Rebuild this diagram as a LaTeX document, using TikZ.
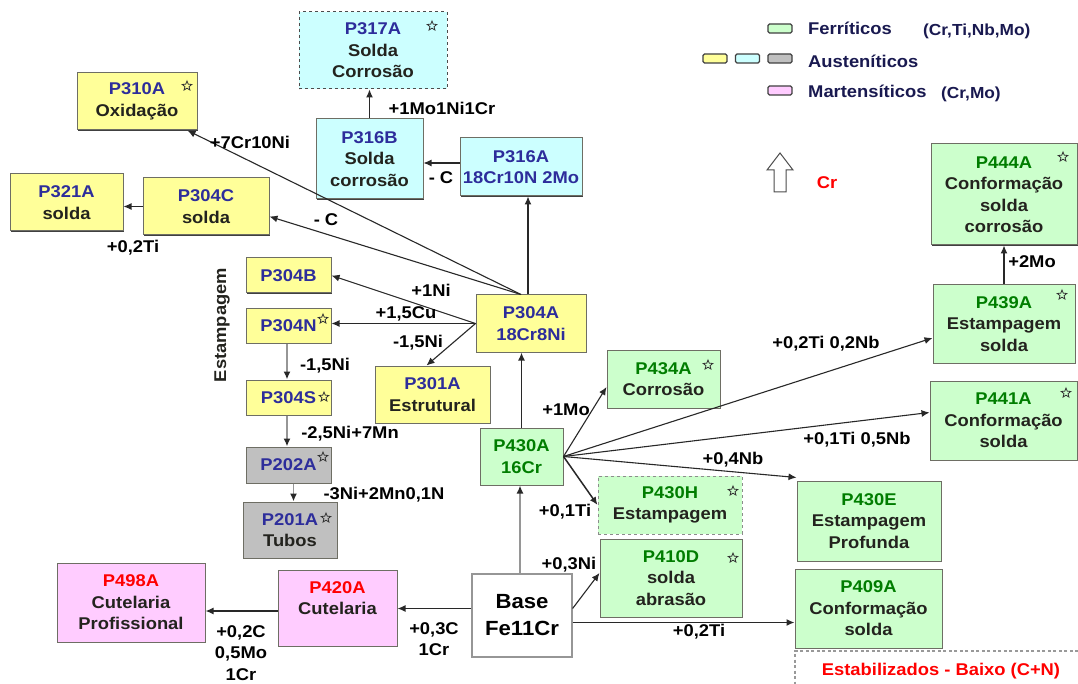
\documentclass[tikz,border=0pt]{standalone}
\usepackage{fontspec}
\setmainfont{Liberation Sans}[FakeStretch=1.08]
\usepackage{xcolor}
\usepackage{tikz}
\usetikzlibrary{
  shapes.geometric,
  arrows.meta,
  shadows,
  calc
}
\definecolor{AustYellow}{RGB}{255,255,153}
\definecolor{AustCyan}{RGB}{204,255,255}
\definecolor{AustGray}{RGB}{192,192,192}
\definecolor{FerrGreen}{RGB}{204,255,204}
\definecolor{MartPink}{RGB}{255,204,255}
\definecolor{NavyInk}{RGB}{45,45,155}
\definecolor{GreenInk}{RGB}{0,125,0}
\definecolor{RedInk}{RGB}{255,0,0}
\definecolor{BodyInk}{RGB}{35,35,30}
\definecolor{LegendInk}{RGB}{25,25,80}
\definecolor{BoxLine}{RGB}{110,110,100}
\definecolor{LineDark}{RGB}{40,40,40}
\definecolor{LineLight}{RGB}{150,150,150}
\newcommand{\boxfont}{\fontsize{17}{21.5}\selectfont\bfseries}
\newcommand{\basefont}{\fontsize{20.5}{27}\selectfont\bfseries}
\newcommand{\aust}[1]{{\color{NavyInk}#1}}
\newcommand{\ferr}[1]{{\color{GreenInk}#1}}
\newcommand{\mart}[1]{{\color{RedInk}#1}}
\tikzset{
  %% -- caixas de aço ---------------------------------------
  box/.style = {
    rectangle, draw = BoxLine, line width = 1pt,
    align = center, inner sep = 0pt,
    text = BodyInk, font = \boxfont
  },
  shadowed/.style = {drop shadow = {shadow xshift = 1.3pt, shadow yshift = -1.3pt,
                                    fill = black!75, opacity = 1}},
  austY/.style = {box, shadowed, fill = AustYellow},
  austC/.style = {box, shadowed, fill = AustCyan},
  austG/.style = {box, shadowed, fill = AustGray},
  ferr/.style  = {box, shadowed, fill = FerrGreen},
  mart/.style  = {box, shadowed, fill = MartPink},
  dashbox/.style = {box, dashed, draw = black!70},
  basebox/.style = {box, fill = white, draw = LineLight, line width = 1.2pt,
                    text = black, font = \basefont},
  starmark/.style = {
    star, star points = 5, star point ratio = 2.3,
    minimum size = 10pt, inner sep = 0pt,
    draw = black!80, line width = 0.8pt
  },
  %% -- legenda ---------------------------------------------
  swatch/.style = {
    rectangle, rounded corners = 1.5pt, draw = black!75, line width = 1.2pt,
    minimum width = 24pt, minimum height = 9pt, inner sep = 0pt
  },
  legtxt/.style = {font = \boxfont, text = LegendInk, inner sep = 0pt},
  legsub/.style = {font = \fontsize{16}{19}\selectfont\bfseries, text = LegendInk, inner sep = 0pt},
  %% -- rótulos e setas -------------------------------------
  lbl/.style = {font = \boxfont, text = black, align = center, inner sep = 0pt},
  arr/.style = {-{Latex[length=8pt, width=7pt]}, line width = 1.1pt, color = LineDark},
  garr/.style = {-{Latex[length=8pt, width=7pt, color=LineDark]}, line width = 1.8pt, color = LineLight},
  zone/.style = {dashed, dash pattern = on 3pt off 2.5pt, line width = 1.2pt, color = black!40},
}

\begin{document}
\begin{tikzpicture}[x=1pt, y=-1pt]

  \path[fill=white, use as bounding box] (0,0) rectangle (1078,684);

  %% -- austeníticos ------------------------------------------
  \node[dashbox, fill=AustCyan, minimum width=148pt, minimum height=77pt] (p317a) at (373,50.5) {\aust{P317A}\\Solda\\Corrosão};
  \node[austY, minimum width=120pt, minimum height=57pt] (p310a) at (137,101.5) {\aust{P310A}\\Oxidação};
  \node[austC, minimum width=107pt, minimum height=80pt] (p316b) at (369.5,159) {\aust{P316B}\\Solda\\corrosão};
  \node[austC, minimum width=122pt, minimum height=58pt] (p316a) at (521,167) {\aust{P316A}\\\aust{18Cr10N 2Mo}};
  \node[austY, minimum width=113pt, minimum height=57pt] (p321a) at (66.5,202.5) {\aust{P321A}\\solda};
  \node[austY, minimum width=126pt, minimum height=57pt] (p304c) at (206,206.5) {\aust{P304C}\\solda};
  \node[austY, minimum width=85pt, minimum height=35pt] (p304b) at (288.5,275.5) {\aust{P304B}};
  \node[austY, minimum width=85pt, minimum height=34pt] (p304n) at (288.5,326) {\aust{P304N}};
  \node[austY, minimum width=110pt, minimum height=57pt] (p304a) at (531,323.5) {\aust{P304A}\\\aust{18Cr8Ni}};
  \node[austY, minimum width=115pt, minimum height=57pt] (p301a) at (432.5,394.5) {\aust{P301A}\\Estrutural};
  \node[austY, minimum width=85pt, minimum height=35pt] (p304s) at (288.5,397.5) {\aust{P304S}};
  \node[austG, minimum width=85pt, minimum height=36pt] (p202a) at (288.5,465) {\aust{P202A}};
  \node[austG, minimum width=94pt, minimum height=56pt] (p201a) at (290,530) {\aust{P201A}\\Tubos};

  %% -- ferríticos --------------------------------------------
  \node[ferr, minimum width=83pt, minimum height=57pt] (p430a) at (521.5,456.5) {\ferr{P430A}\\\ferr{16Cr}};
  \node[ferr, minimum width=113pt, minimum height=58pt] (p434a) at (663.5,379) {\ferr{P434A}\\Corrosão};
  \node[dashbox, fill=FerrGreen, draw=black!45, minimum width=144pt, minimum height=58pt] (p430h) at (670,505) {\ferr{P430H}\\Estampagem};
  \node[ferr, minimum width=142pt, minimum height=78pt] (p410d) at (671,578) {\ferr{P410D}\\solda\\abrasão};
  \node[ferr, minimum width=146pt, minimum height=101pt] (p444a) at (1004,194.5) {\ferr{P444A}\\Conformação\\solda\\corrosão};
  \node[ferr, minimum width=142pt, minimum height=78pt] (p439a) at (1004,324) {\ferr{P439A}\\Estampagem\\solda};
  \node[ferr, minimum width=147pt, minimum height=79pt] (p441a) at (1003.5,420.5) {\ferr{P441A}\\Conformação\\solda};
  \node[ferr, minimum width=144pt, minimum height=80pt] (p430e) at (869,521) {\ferr{P430E}\\Estampagem\\Profunda};
  \node[ferr, minimum width=147pt, minimum height=79pt] (p409a) at (868.5,608.5) {\ferr{P409A}\\Conformação\\solda};

  %% -- martensíticos e base ----------------------------------
  \node[mart, minimum width=119pt, minimum height=76pt, text depth=20pt] (p420a) at (337.5,608) {\mart{P420A}\\Cutelaria};
  \node[mart, minimum width=148pt, minimum height=79pt] (p498a) at (131,602.5) {\mart{P498A}\\Cutelaria\\Profissional};
  \node[basebox, minimum width=100pt, minimum height=83pt] (base) at (522,615.5) {Base\\Fe11Cr};

  %% -- estrelas ----------------------------------------------
  \node[starmark] (s317a) at (432,26) {};
  \node[starmark] (s310a) at (187,86) {};
  \node[starmark] (s444a) at (1063,157) {};
  \node[starmark] (s439a) at (1062,295) {};
  \node[starmark] (s441a) at (1066,393) {};
  \node[starmark] (s434a) at (708,365) {};
  \node[starmark] (s430h) at (733,491) {};
  \node[starmark] (s410d) at (733,558) {};
  \node[starmark] (s304n) at (323,319) {};
  \node[starmark] (s304s) at (324,397) {};
  \node[starmark] (s202a) at (323,457) {};
  \node[starmark] (s201a) at (326,518) {};

  %% -- setas -------------------------------------------------
  \draw[arr] (p316b.north) -- (p316b.north |- p317a.south);
  \draw[arr] ([yshift=4pt]p316a.west) -- ([yshift=4pt]p316a.west -| p316b.east);
  \draw[arr] ([xshift=-3pt]p304a.north) -- ([xshift=-3pt]p304a.north |- p316a.south);
  \draw[arr] ([xshift=-10pt]p304a.north) -- ([xshift=-10pt]p310a.south east);
  \draw[arr] ([xshift=-10pt]p304a.north) -- ([yshift=-10pt]p304c.east);
  \draw[arr] (p304c.west) -- (p304c.west -| p321a.east);
  \draw[arr] (p304a.west) -- (p304b.east);
  \draw[arr] (p304a.west) -- (p304a.west -| p304n.east);
  \draw[arr] (p304a.west) -- ([xshift=-6pt]p301a.north);
  \draw[garr] ([xshift=-1.5pt]p304n.south) -- ([xshift=-1.5pt]p304s.north);
  \draw[garr] ([xshift=-1.5pt]p304s.south) -- ([xshift=-1.5pt]p202a.north);
  \draw[garr] ([xshift=5pt]p202a.south) -- ([xshift=5pt]p202a.south |- p201a.north);
  \draw[arr, line width=1.6pt] (p430a.north) -- (p430a.north |- p304a.south);
  \draw[garr] ([xshift=-2pt]base.north) -- ([xshift=-2pt]base.north |- p430a.south);
  \draw[arr] (p430a.east) -- ([yshift=-8pt]p434a.west);
  \draw[arr] (p430a.east) -- ([yshift=-14pt]p439a.west);
  \draw[arr] (p430a.east) -- ([yshift=8pt]p441a.west);
  \draw[arr] (p430a.east) -- ([yshift=3pt]p430e.north west);
  \draw[arr, line width=1.5pt] (p430a.east) -- (p430h.west);
  \draw[arr] ([yshift=7pt]base.east) -- ([yshift=5pt]p410d.west);
  \draw[arr, line width=1.4pt] ([yshift=-7pt]base.east) -- ([yshift=-7pt]base.east -| p409a.west);
  \draw[arr, line width=1.4pt] ([yshift=7pt]base.west) -- ([yshift=7pt]base.west -| p420a.east);
  \draw[arr, line width=1.4pt] ([yshift=-3pt]p420a.west) -- ([yshift=-3pt]p420a.west -| p498a.east);
  \draw[arr] (p439a.north) -- (p439a.north |- p444a.south);

  %% -- rótulos das setas -------------------------------------
  \node[lbl] (l317a) at (442,108) {+1Mo1Ni1Cr};
  \node[lbl] (l316b) at (441,178) {- C};
  \node[lbl] (l310a) at (250,142) {+7Cr10Ni};
  \node[lbl] (l304c) at (326,220) {- C};
  \node[lbl] (l321a) at (133,248) {+0,2Ti};
  \node[lbl] (l304b) at (431,290) {+1Ni};
  \node[lbl] (l304n) at (406,314) {+1,5Cu};
  \node[lbl] (l301a) at (418,343) {-1,5Ni};
  \node[lbl] (l304s) at (325,366) {-1,5Ni};
  \node[lbl] (l202a) at (350,434) {-2,5Ni+7Mn};
  \node[lbl] (l201a) at (384,495) {-3Ni+2Mn0,1N};
  \node[lbl] (l434a) at (566,410) {+1Mo};
  \node[lbl] (l430h) at (565,512) {+0,1Ti};
  \node[lbl] (l430e) at (733,460) {+0,4Nb};
  \node[lbl] (l410d) at (569,565) {+0,3Ni};
  \node[lbl] (l439a) at (826,344) {+0,2Ti 0,2Nb};
  \node[lbl] (l441a) at (857,440) {+0,1Ti 0,5Nb};
  \node[lbl] (l444a) at (1032,262) {+2Mo};
  \node[lbl] (l409a) at (699,632) {+0,2Ti};
  \node[lbl] (l420a) at (434,639) {+0,3C\\1Cr};
  \node[lbl] (l498a) at (241,653) {+0,2C\\0,5Mo\\1Cr};
  \node[lbl, rotate=90, text=BodyInk] (estamp) at (222,325) {Estampagem};

  %% -- legenda -----------------------------------------------
  \node[swatch, fill=FerrGreen] (swF) at (780,28.5) {};
  \node[legtxt, anchor=west] (lgF) at (808,28) {Ferríticos};
  \node[legsub, anchor=west] (lgF2) at (923,31) {(Cr,Ti,Nb,Mo)};
  \node[swatch, fill=AustYellow] (swY) at (715,58.5) {};
  \node[swatch, fill=AustCyan] (swC) at (747.5,58.5) {};
  \node[swatch, fill=AustGray] (swG) at (780,58.5) {};
  \node[legtxt, anchor=west] (lgA) at (808,61) {Austeníticos};
  \node[swatch, fill=MartPink] (swM) at (780,90.5) {};
  \node[legtxt, anchor=west] (lgM) at (808,91) {Martensíticos};
  \node[legsub, anchor=west] (lgM2) at (941,94) {(Cr,Mo)};
  \draw[fill=white, draw=black!70, line width=1pt]
    (774,192) -- (774,170) -- (767,170) -- (780,153) -- (793,170) -- (786,170) -- (786,192) -- cycle;
  \node[legtxt, text=RedInk] (lgCr) at (827,183) {Cr};

  %% -- estabilizados -----------------------------------------
  \draw[zone] (1078,651) -- (795,651) -- (795,684);
  \node[lbl, text=RedInk] (zoneLbl) at (941,671) {Estabilizados - Baixo (C+N)};

\end{tikzpicture}
\end{document}
